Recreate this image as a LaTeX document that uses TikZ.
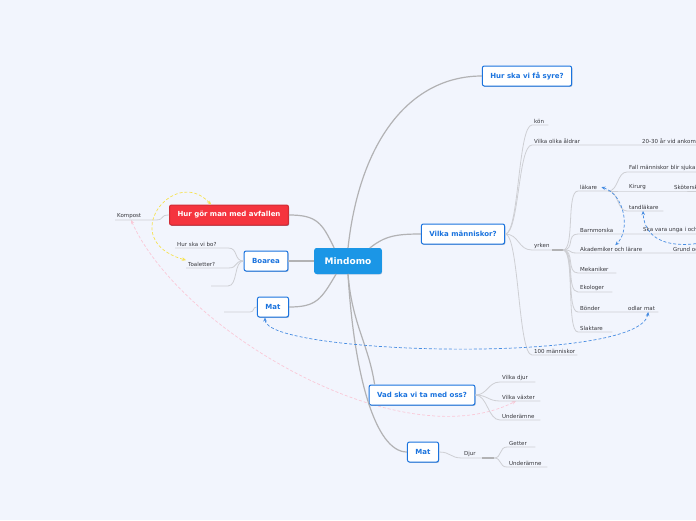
\documentclass[tikz,border=0pt]{standalone}
\usepackage{fontspec}
\setmainfont{DejaVu Sans}
\usepackage{tikz}
\usetikzlibrary{arrows}
\usetikzlibrary{arrows.meta}
\usetikzlibrary{shadows}

\definecolor{bgpaper}{RGB}{242,245,253}
\definecolor{mindblue}{RGB}{27,150,230}
\definecolor{topicblue}{RGB}{26,115,222}
\definecolor{avfred}{RGB}{245,52,62}
\definecolor{limbgray}{RGB}{178,178,180}
\definecolor{twiggray}{RGB}{206,207,212}
\definecolor{leafgray}{RGB}{55,55,60}
\definecolor{relyellow}{RGB}{246,226,80}
\definecolor{relpink}{RGB}{250,200,215}
\definecolor{relblue}{RGB}{70,140,226}

\pgfdeclarelayer{back}
\pgfsetlayers{back,main}

\begin{document}
\begin{tikzpicture}[x=1pt,y=-1pt,
  >={Stealth[length=4pt,width=3.5pt]},
  topic/.style={draw=topicblue,line width=1pt,fill=white,rounded corners=2pt,
    text=topicblue,font=\fontsize{7}{8}\selectfont\bfseries,
    inner xsep=8pt,inner ysep=0pt,minimum height=20pt,
    drop shadow={shadow xshift=0.7pt,shadow yshift=-0.9pt,fill=topicblue!60!black,opacity=0.35}},
  leaf/.style={anchor=south west,inner xsep=2pt,inner ysep=1.6pt,text=leafgray,
    font=\fontsize{5.5}{6}\selectfont},
  limb/.style={draw=limbgray,line width=1.2pt},
  twig/.style={draw=twiggray,line width=0.8pt},
  rb/.style={out=0,in=180,distance=#1},
  lb/.style={out=180,in=0,distance=#1},
  rel/.style={dash pattern=on 3pt off 2pt,line width=0.7pt,<->}]
\useasboundingbox (0,0) rectangle (696,520);
\clip (0,0) rectangle (696,520);

% main topics
\node[topic,fill=mindblue,draw=mindblue,text=white,font=\fontsize{9}{10}\selectfont\bfseries,
  minimum height=25pt,inner xsep=10pt] (mind) at (348,261) {Mindomo};
\node[topic] (syre) at (527,76) {Hur ska vi få syre?};
\node[topic] (vm) at (463,234) {Vilka människor?};
\node[topic,fill=avfred,draw=avfred!85!black,text=white,
  drop shadow={shadow xshift=0.7pt,shadow yshift=-0.9pt,fill=avfred!50!black,opacity=0.35}] (avf) at (229,215) {Hur gör man med avfallen};
\node[topic] (boa) at (266,261) {Boarea};
\node[topic] (matl) at (273,307) {Mat};
\node[topic] (vad) at (422,395) {Vad ska vi ta med oss?};
\node[topic] (matb) at (423,452) {Mat};

\draw[limb] (mind.north) .. controls +(12,-110) and +(-70,0) .. (syre.west);
\draw[limb] ([xshift=-12pt]mind.north east) .. controls +(15,-12) and +(-25,0) .. (vm.west);
\draw[limb] ([xshift=20pt]mind.north west) .. controls +(-12,-25) and +(28,0) .. (avf.east);
\draw[limb] (mind.west) -- (boa.east);
\draw[limb] ([xshift=22pt]mind.south west) .. controls +(-15,25) and +(28,0) .. (matl.east);
\draw[limb] (mind.south) .. controls +(4,50) and +(-6,-40) .. ([xshift=6pt]vad.north west);
\draw[limb] (mind.south) .. controls +(6,100) and +(-32,0) .. (matb.west);

% left side
\node[leaf,text width=36pt] (komp) at (115,220) {Kompost};
\node[leaf,text width=49pt] (bo) at (175,248) {Hur ska vi bo?};
\node[leaf,text width=38pt] (toal) at (186,268) {Toaletter?};
\coordinate (boa0) at (228,286);
\coordinate (boa1) at (211,286);
\coordinate (matl0) at (250,312);
\coordinate (matl1) at (224,312);
\draw[twig] (avf.west) to[lb=10] (komp.south east) -- (komp.south west);
\draw[twig] (boa.west) to[lb=10] (bo.south east) -- (bo.south west);
\draw[twig] (boa.west) to[lb=10] (toal.south east) -- (toal.south west);
\draw[twig] (boa.west) to[lb=10] (boa0) -- (boa1);
\draw[twig] (matl.west) to[lb=5] (matl0) -- (matl1);

% Vilka människor
\node[leaf,text width=12pt] (kon) at (532,125) {kön};
\node[leaf] (aldr) at (532,145) {Vilka olika åldrar};
\node[leaf] (ankomst) at (640,145) {20-30 år vid ankomst};
\node[leaf,text width=16pt] (yrk) at (532,250) {yrken};
\coordinate (yrkhub) at (563,250);
\node[leaf] (hundra) at (532,355) {100 människor};
\draw[twig] (vm.east) to[rb=14] (kon.south west) -- (kon.south east);
\draw[twig] (vm.east) to[rb=14] (aldr.south west) -- (aldr.south east) -- (ankomst.south west) -- (ankomst.south east);
\draw[twig] (vm.east) to[rb=14] (yrk.south west) -- (yrk.south east);
\draw[twig] (vm.east) to[rb=14] (hundra.south west) -- (hundra.south east);
\draw[limb,line width=1.6pt] (yrk.south east) -- (yrkhub);

% yrken
\node[leaf,text width=26pt] (lak) at (578,191) {läkare};
\node[leaf] (fall) at (627,172) {Fall människor blir sjuka};
\node[leaf,text width=30pt] (kir) at (627,191) {Kirurg};
\node[leaf] (skot) at (672,191) {Sköterska};
\node[leaf,text width=32pt] (tand) at (627,211) {tandläkare};
\node[leaf] (barn) at (578,234) {Barnmorska};
\node[leaf] (unga) at (641,234) {Ska vara unga i och};
\node[leaf] (akad) at (578,253) {Akademiker och lärare};
\node[leaf] (grund) at (671,253) {Grund och};
\node[leaf,text width=34pt] (mek) at (578,273) {Mekaniker};
\node[leaf,text width=30pt] (eko) at (578,292) {Ekologer};
\node[leaf,text width=24pt] (bond) at (578,312) {Bönder};
\node[leaf,text width=28pt] (odlar) at (626,312) {odlar mat};
\node[leaf,text width=30pt] (slakt) at (578,332) {Slaktare};
\draw[twig] (yrkhub) to[rb=12] (lak.south west) -- (lak.south east);
\draw[twig] (yrkhub) to[rb=12] (barn.south west) -- (barn.south east) -- (unga.south west) -- (unga.south east);
\draw[twig] (yrkhub) to[rb=12] (akad.south west) -- (akad.south east) -- (grund.south west) -- (grund.south east);
\draw[twig] (yrkhub) to[rb=12] (mek.south west) -- (mek.south east);
\draw[twig] (yrkhub) to[rb=12] (eko.south west) -- (eko.south east);
\draw[twig] (yrkhub) to[rb=12] (bond.south west) -- (bond.south east) -- (odlar.south west) -- (odlar.south east);
\draw[twig] (yrkhub) to[rb=12] (slakt.south west) -- (slakt.south east);
\draw[twig] (lak.south east) to[rb=10] (fall.south west) -- (fall.south east);
\draw[twig] (lak.south east) -- (kir.south west) -- (kir.south east) -- (skot.south west) -- (skot.south east);
\draw[twig] (lak.south east) to[rb=10] (tand.south west) -- (tand.south east);

% Vad ska vi ta med oss
\node[leaf,text width=31pt] (vdjur) at (500,382) {Vilka djur};
\node[leaf,text width=36pt] (vaxt) at (500,401) {Vilka växter};
\node[leaf,text width=36pt] (vund) at (500,420) {Underämne};
\draw[twig] (vad.east) to[rb=12] (vdjur.south west) -- (vdjur.south east);
\draw[twig] (vad.east) to[rb=12] (vaxt.south west) -- (vaxt.south east);
\draw[twig] (vad.east) to[rb=12] (vund.south west) -- (vund.south east);

% Mat
\node[leaf,text width=16pt] (djur) at (462,458) {Djur};
\coordinate (djurhub) at (494,458);
\node[leaf,text width=24pt] (getter) at (507,447) {Getter};
\node[leaf,text width=36pt] (mund) at (507,467) {Underämne};
\draw[twig] (matb.east) to[rb=12] (djur.south west) -- (djur.south east);
\draw[limb,line width=1.6pt] (djur.south east) -- (djurhub);
\draw[twig] (djurhub) to[rb=8] (getter.south west) -- (getter.south east);
\draw[twig] (djurhub) to[rb=8] (mund.south west) -- (mund.south east);

% relations
\coordinate (offright) at (730,235);
\draw[rel,draw=relyellow] ([xshift=42pt]avf.north west) .. controls +(-37,-40) and +(-71,-20) .. (toal.north west);
\draw[rel,draw=relblue] ([xshift=-8pt]matl.south) .. controls +(0,37) and +(-8,53) .. ([xshift=6pt]odlar.south);
\draw[rel,draw=relblue] ([xshift=-7pt]lak.east) .. controls +(24,8) and +(15,-14) .. ([xshift=4pt]akad.north);
\draw[rel,draw=relblue,->] (offright) .. controls +(-40,15) and +(2,39) .. ([xshift=16pt]tand.south west);
\begin{pgfonlayer}{back}
\fill[bgpaper] (0,0) rectangle (696,520);
\draw[rel,draw=relpink] ([xshift=16pt]komp.south west) .. controls +(49,110) and +(-116,59) .. ([xshift=16pt]vaxt.south west);
\end{pgfonlayer}
\end{tikzpicture}
\end{document}
